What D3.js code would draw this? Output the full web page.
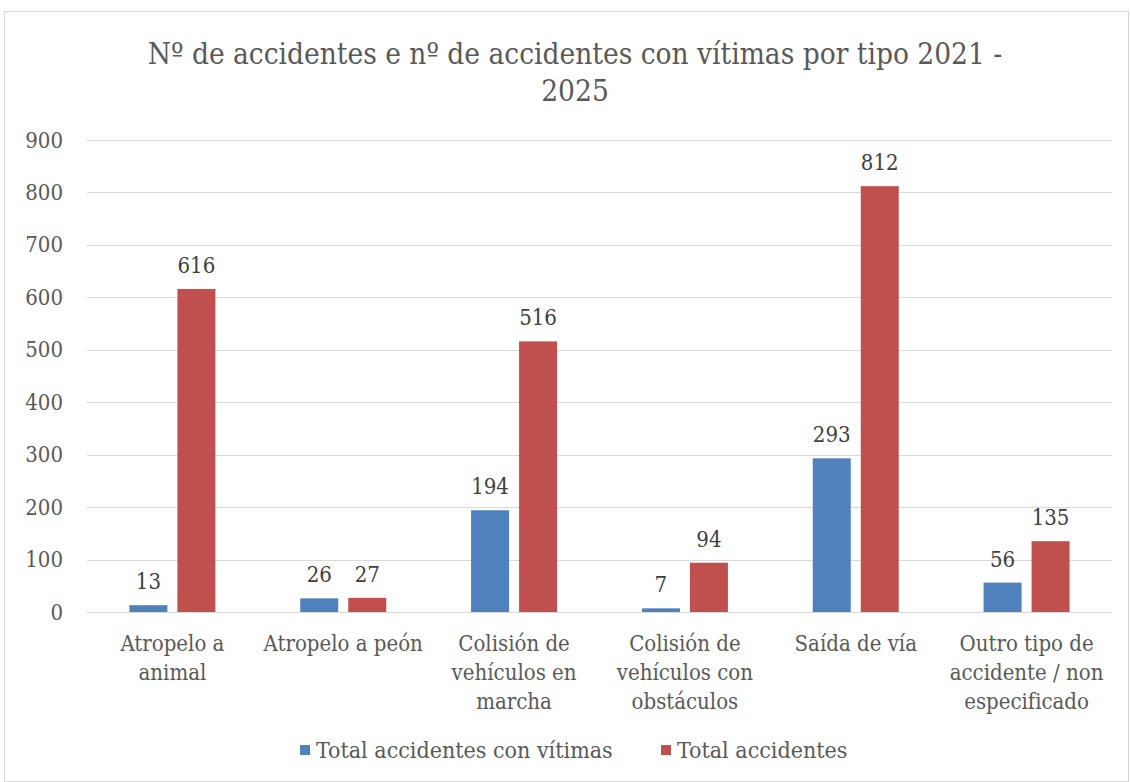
<!DOCTYPE html>
<html lang="es">
<head>
<meta charset="utf-8">
<title>Accidentes por tipo</title>
<script src="https://d3js.org/d3.v7.min.js"></script>
<style>
  body { margin: 0; background: #fff; }
  text { font-family: "DejaVu Serif Condensed", "Liberation Serif", serif; }
</style>
</head>
<body>
<script>
var categories = [
  ["Atropelo a", "animal"],
  ["Atropelo a peón"],
  ["Colisión de", "vehículos en", "marcha"],
  ["Colisión de", "vehículos con", "obstáculos"],
  ["Saída de vía"],
  ["Outro tipo de", "accidente / non", "especificado"]
];
var seriesNames = ["Total accidentes con vítimas", "Total accidentes"];
var conVitimas = [13, 26, 194, 7, 293, 56];
var totalAcc = [616, 27, 516, 94, 812, 135];
var yTicks = [0, 100, 200, 300, 400, 500, 600, 700, 800, 900];
var colors = ["#4f81bd", "#c0504d"];

var W = 1130, H = 782;
var mLeft = 87, mRight = 1112, mTop = 140, mBottom = 612;
var FONT = "\"DejaVu Serif Condensed\", \"Liberation Serif\", serif";

var svg = d3.select("body").append("svg")
  .attr("width", W).attr("height", H);

svg.append("rect")
  .attr("x", 4.5).attr("y", 11.5)
  .attr("width", W - 6).attr("height", H - 12)
  .attr("fill", "#fff").attr("stroke", "#d9d9d9");

svg.append("text")
  .attr("x", 575).attr("text-anchor", "middle")
  .attr("fill", "#595959").attr("font-size", 29.5)
  .selectAll("tspan")
  .data(["Nº de accidentes e nº de accidentes con vítimas por tipo 2021 -", "2025"])
  .enter().append("tspan")
  .attr("x", 575)
  .attr("y", function(d, i) { return 64 + i * 37; })
  .text(function(d) { return d; });

var x = d3.scaleBand().domain(d3.range(categories.length)).range([mLeft, mRight]);
var y = d3.scaleLinear().domain([0, 900]).range([mBottom, mTop]);

// gridlines
svg.append("g").selectAll("line")
  .data(yTicks.slice(1))
  .enter().append("line")
  .attr("x1", mLeft).attr("x2", mRight)
  .attr("y1", function(d) { return Math.round(y(d)) + 0.5; })
  .attr("y2", function(d) { return Math.round(y(d)) + 0.5; })
  .attr("stroke", "#d9d9d9").attr("stroke-width", 1);

var yAxis = svg.append("g")
  .attr("transform", "translate(" + mLeft + ",0)")
  .call(d3.axisLeft(y).tickValues(yTicks).tickSize(0).tickPadding(24));
yAxis.select(".domain").remove();
yAxis.selectAll("text")
  .attr("fill", "#595959").attr("font-size", 22)
  .style("font-family", FONT);

var barW = 38, gap = 10;
var series = [conVitimas, totalAcc];

series.forEach(function(vals, s) {
  var off = s === 0 ? -(gap / 2 + barW) : gap / 2;
  svg.append("g").selectAll("rect")
    .data(vals)
    .enter().append("rect")
    .attr("x", function(d, i) { return x(i) + x.bandwidth() / 2 + off; })
    .attr("y", function(d) { return y(d); })
    .attr("width", barW)
    .attr("height", function(d) { return y(0) - y(d); })
    .attr("fill", colors[s]);
  svg.append("g").selectAll("text")
    .data(vals)
    .enter().append("text")
    .attr("x", function(d, i) { return x(i) + x.bandwidth() / 2 + off + barW / 2; })
    .attr("y", function(d) { return y(d) - 16; })
    .attr("text-anchor", "middle")
    .attr("fill", "#404040").attr("font-size", 22)
    .text(function(d) { return d; });
});

// x axis line
svg.append("line")
  .attr("x1", mLeft).attr("x2", mRight)
  .attr("y1", mBottom + 0.5).attr("y2", mBottom + 0.5)
  .attr("stroke", "#d9d9d9");

var xl = svg.append("g").selectAll("text")
  .data(categories)
  .enter().append("text")
  .attr("text-anchor", "middle")
  .attr("fill", "#595959").attr("font-size", 22);
xl.selectAll("tspan")
  .data(function(d, i) { return d.map(function(t) { return { t: t, i: i }; }); })
  .enter().append("tspan")
  .attr("x", function(d) { return x(d.i) + x.bandwidth() / 2; })
  .attr("y", function(d, j) { return 651 + j * 29; })
  .text(function(d) { return d.t; });

// legend
var legX = [300, 661];
var leg = svg.append("g").selectAll("g")
  .data(seriesNames)
  .enter().append("g")
  .attr("transform", function(d, i) { return "translate(" + legX[i] + ",745)"; });
leg.append("rect").attr("width", 10).attr("height", 10)
  .attr("fill", function(d, i) { return colors[i]; });
leg.append("text")
  .attr("x", 16).attr("y", 13)
  .attr("fill", "#595959").attr("font-size", 23)
  .text(function(d) { return d; });
</script>
</body>
</html>
